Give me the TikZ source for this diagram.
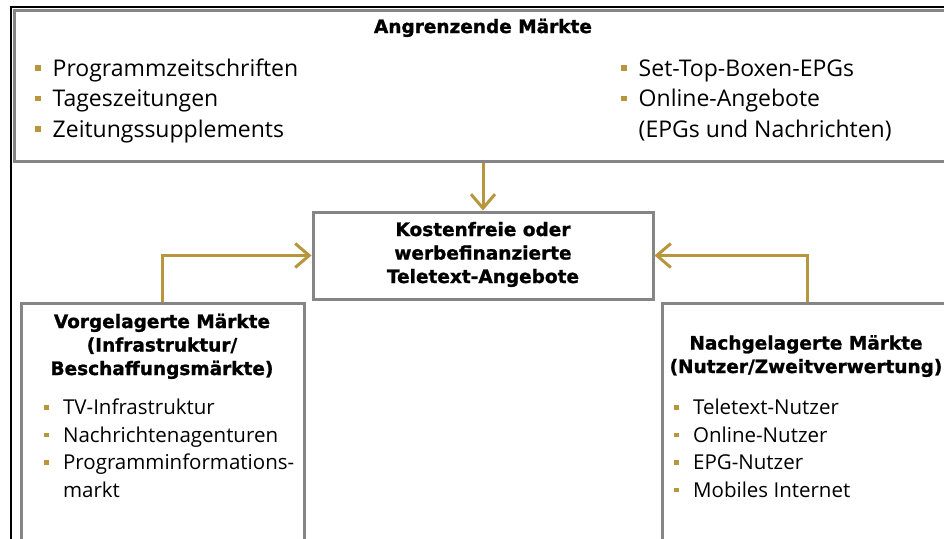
\documentclass[tikz,border=0pt]{standalone}
\usepackage{fontspec}
\setmainfont{Open Sans}
\newfontfamily\headfont{DejaVu Sans}[BoldFeatures={FakeBold=1.2}]
\usetikzlibrary{positioning,arrows.meta}
\definecolor{gold}{HTML}{B8963E}
\definecolor{boxgray}{HTML}{858585}
\newlength{\bulgap}
\newcommand{\sqb}{\textcolor{gold}{\rule[0.22em]{0.24em}{0.24em}}\hspace{\bulgap}}
\newcommand{\nob}{\phantom{\rule{0.24em}{0.24em}}\hspace{\bulgap}}
\begin{document}
\begin{tikzpicture}
    [x=1pt,y=-1pt,
     box/.style={draw=boxgray,line width=3pt,fill=white,inner sep=0pt},
     arr/.style={draw=gold,line width=3pt,-{Straight Barb[length=14pt,width=24pt,line width=3pt]}},
     head/.style={font=\headfont\fontsize{18.5}{23.5}\selectfont\bfseries,align=center,inner sep=0pt},
     items/.style={font=\fontsize{23}{30.5}\selectfont\setlength{\bulgap}{12pt},align=left,inner sep=0pt},
     small/.style={font=\fontsize{20.5}{27.5}\selectfont\setlength{\bulgap}{14pt},align=left,inner sep=0pt}]
    \useasboundingbox (0,0) rectangle (944,538);
    \clip (0,0) rectangle (944,538);
    \fill[white] (0,0) rectangle (944,538);
    \draw[line width=1.5pt] (11,7) rectangle (960,560);
    % boxes
    \node[box,minimum width=940pt,minimum height=151pt] (top) at (484,85.5) {};
    \node[box,minimum width=340pt,minimum height=87pt] (mid) at (483,255.5) {};
    \node[box,minimum width=283pt,minimum height=260pt] (up) at (162.5,433) {};
    \node[box,minimum width=290pt,minimum height=260pt] (down) at (807,433) {};
    % texts (anchored at the last baseline)
    \node[head,anchor=base] (toptitle) at (483,33) {Angrenzende Märkte};
    \node[items,anchor=base west] (toplist) at (35,137)
        {\sqb Programmzeitschriften\\ \sqb Tageszeitungen\\ \sqb Zeitungssupplements};
    \node[items,anchor=base west] (toplist2) at (621,137)
        {\sqb Set-Top-Boxen-EPGs\\ \sqb Online-Angebote\\ \nob (EPGs und Nachrichten)};
    \node[head,anchor=base] (midtitle) at (483,283)
        {Kostenfreie oder\\ werbefinanzierte\\ Teletext-Angebote};
    \node[head,anchor=base] (uptitle) at (162,375)
        {Vorgelagerte Märkte\\ (Infrastruktur/\\ Beschaffungsmärkte)};
    \node[small,anchor=base west] (uplist) at (44,497)
        {\sqb TV-Infrastruktur\\ \sqb Nachrichtenagenturen\\ \sqb Programminformations-\\ \nob markt};
    \node[head,anchor=base] (downtitle) at (806,373)
        {Nachgelagerte Märkte\\ (Nutzer/Zweitverwertung)};
    \node[small,anchor=base west] (downlist) at (674,497)
        {\sqb Teletext-Nutzer\\ \sqb Online-Nutzer\\ \sqb EPG-Nutzer\\ \sqb Mobiles Internet};
    % connectors
    \draw[arr] (mid.north |- top.south) -- (mid.north);
    \draw[arr] (up.north) |- (mid.west);
    \draw[arr] (down.north) |- (mid.east);
\end{tikzpicture}
\end{document}
